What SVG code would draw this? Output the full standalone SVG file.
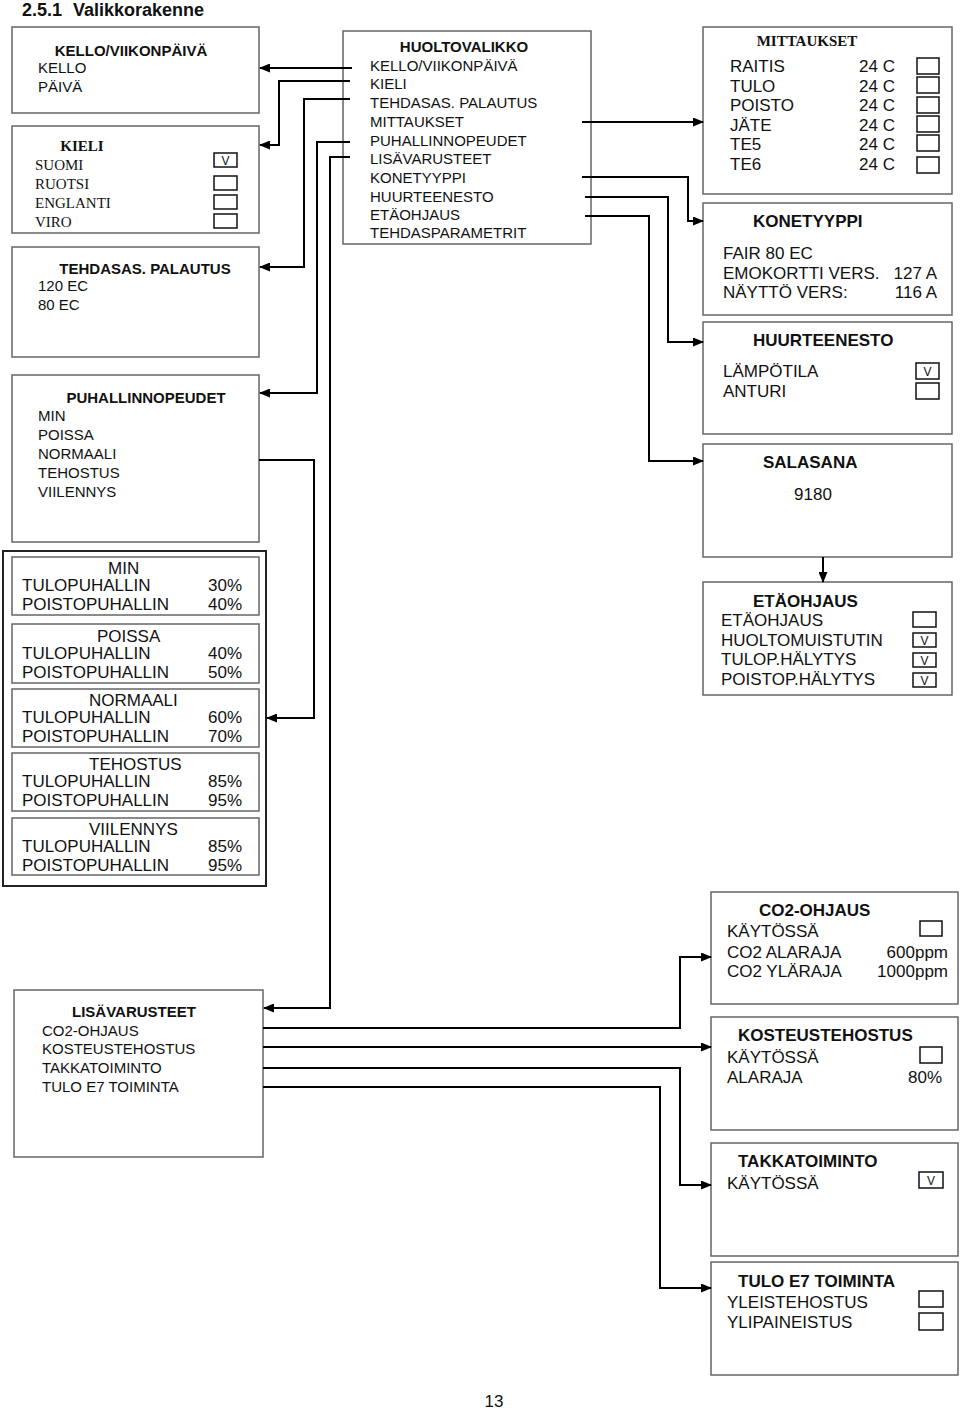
<svg xmlns="http://www.w3.org/2000/svg" width="960" height="1410" viewBox="0 0 960 1410">
<style>
text{font-family:"Liberation Sans",Arial,sans-serif;fill:#111;}
.t15{font-size:15px;}
.t17{font-size:17px;}
.b{font-weight:bold;}
.ser{font-family:"Liberation Serif","Times New Roman",serif;font-size:15px;}
.box{fill:#fff;stroke:#666;stroke-width:1.5;}
.outer{fill:#fff;stroke:#222;stroke-width:2;}
.cb{fill:#fff;stroke:#111;stroke-width:1.5;}
.v{font-size:12px;text-anchor:middle;}
.c{text-anchor:middle;}
.e{text-anchor:end;}
.conn{fill:none;stroke:#000;stroke-width:2;}
</style>
<defs>
<marker id="arr" viewBox="0 0 11 9" refX="10" refY="4.5" markerWidth="11" markerHeight="9" orient="auto" markerUnits="userSpaceOnUse"><path d="M0,0 L11,4.5 L0,9 z" fill="#000"/></marker>
</defs>
<rect width="960" height="1410" fill="#fff"/>
<text x="22" y="15.5" class="b" style="font-size:18px">2.5.1 <tspan x="73">Valikkorakenne</tspan></text>

<g id="kello">
<rect class="box" x="12" y="27" width="247" height="86"/>
<text x="131" y="56" class="t15 b c">KELLO/VIIKONPÄIVÄ</text>
<text x="38" y="73" class="t15">KELLO</text>
<text x="38" y="92" class="t15">PÄIVÄ</text>
</g>

<g id="kieli">
<rect class="box" x="12" y="126" width="247" height="107"/>
<text x="82" y="151" class="ser c" font-weight="bold">KIELI</text>
<text x="35" y="170" class="ser">SUOMI</text>
<text x="35" y="189" class="ser">RUOTSI</text>
<text x="35" y="208" class="ser">ENGLANTI</text>
<text x="35" y="227" class="ser">VIRO</text>
<rect class="cb" x="214" y="153" width="23" height="14"/><text x="225.5" y="164.5" class="v">V</text>
<rect class="cb" x="214" y="176" width="23" height="14"/>
<rect class="cb" x="214" y="195" width="23" height="14"/>
<rect class="cb" x="214" y="214" width="23" height="14"/>
</g>

<g id="tehdasas">
<rect class="box" x="12" y="247" width="247" height="110"/>
<text x="145" y="274" class="t15 b c">TEHDASAS. PALAUTUS</text>
<text x="38" y="291" class="t15">120 EC</text>
<text x="38" y="310" class="t15">80 EC</text>
</g>

<g id="puhallinnopeudet">
<rect class="box" x="12" y="375" width="247" height="167"/>
<text x="146" y="403" class="t15 b c">PUHALLINNOPEUDET</text>
<text x="38" y="421" class="t15">MIN</text>
<text x="38" y="440" class="t15">POISSA</text>
<text x="38" y="459" class="t15">NORMAALI</text>
<text x="38" y="478" class="t15">TEHOSTUS</text>
<text x="38" y="497" class="t15">VIILENNYS</text>
</g>

<g id="nopeudet">
<rect class="outer" x="3" y="551" width="263" height="335"/>
<rect class="box" x="12" y="557" width="247" height="58"/>
<text x="108" y="574" class="t17">MIN</text>
<text x="22" y="591" class="t17">TULOPUHALLIN</text><text x="208" y="591" class="t17">30%</text>
<text x="22" y="610" class="t17">POISTOPUHALLIN</text><text x="208" y="610" class="t17">40%</text>
<rect class="box" x="12" y="624" width="247" height="59"/>
<text x="97" y="642" class="t17">POISSA</text>
<text x="22" y="659" class="t17">TULOPUHALLIN</text><text x="208" y="659" class="t17">40%</text>
<text x="22" y="678" class="t17">POISTOPUHALLIN</text><text x="208" y="678" class="t17">50%</text>
<rect class="box" x="12" y="689" width="247" height="58"/>
<text x="89" y="706" class="t17">NORMAALI</text>
<text x="22" y="723" class="t17">TULOPUHALLIN</text><text x="208" y="723" class="t17">60%</text>
<text x="22" y="742" class="t17">POISTOPUHALLIN</text><text x="208" y="742" class="t17">70%</text>
<rect class="box" x="12" y="753" width="247" height="58"/>
<text x="89" y="770" class="t17">TEHOSTUS</text>
<text x="22" y="787" class="t17">TULOPUHALLIN</text><text x="208" y="787" class="t17">85%</text>
<text x="22" y="806" class="t17">POISTOPUHALLIN</text><text x="208" y="806" class="t17">95%</text>
<rect class="box" x="12" y="818" width="247" height="57"/>
<text x="89" y="835" class="t17">VIILENNYS</text>
<text x="22" y="852" class="t17">TULOPUHALLIN</text><text x="208" y="852" class="t17">85%</text>
<text x="22" y="871" class="t17">POISTOPUHALLIN</text><text x="208" y="871" class="t17">95%</text>
</g>

<g id="lisavarusteet">
<rect class="box" x="14" y="990" width="249" height="167"/>
<text x="72" y="1017" class="t15 b">LISÄVARUSTEET</text>
<text x="42" y="1036" class="t15">CO2-OHJAUS</text>
<text x="42" y="1054" class="t15">KOSTEUSTEHOSTUS</text>
<text x="42" y="1073" class="t15">TAKKATOIMINTO</text>
<text x="42" y="1092" class="t15">TULO E7 TOIMINTA</text>
</g>

<g id="huoltovalikko">
<rect class="box" x="343" y="31" width="248" height="213"/>
<text x="464" y="52" class="t15 b c">HUOLTOVALIKKO</text>
<text x="370" y="71" class="t15">KELLO/VIIKONPÄIVÄ</text>
<text x="370" y="89" class="t15">KIELI</text>
<text x="370" y="108" class="t15">TEHDASAS. PALAUTUS</text>
<text x="370" y="127" class="t15">MITTAUKSET</text>
<text x="370" y="146" class="t15">PUHALLINNOPEUDET</text>
<text x="370" y="164" class="t15">LISÄVARUSTEET</text>
<text x="370" y="183" class="t15">KONETYYPPI</text>
<text x="370" y="202" class="t15">HUURTEENESTO</text>
<text x="370" y="220" class="t15">ETÄOHJAUS</text>
<text x="370" y="238" class="t15">TEHDASPARAMETRIT</text>
</g>

<g id="mittaukset">
<rect class="box" x="703" y="27" width="249" height="167"/>
<text x="807" y="46" class="ser c" font-weight="bold">MITTAUKSET</text>
<text x="730" y="72" class="t17">RAITIS</text><text x="859" y="72" class="t17">24 C</text>
<text x="730" y="92" class="t17">TULO</text><text x="859" y="92" class="t17">24 C</text>
<text x="730" y="111" class="t17">POISTO</text><text x="859" y="111" class="t17">24 C</text>
<text x="730" y="131" class="t17">JÄTE</text><text x="859" y="131" class="t17">24 C</text>
<text x="730" y="150" class="t17">TE5</text><text x="859" y="150" class="t17">24 C</text>
<text x="730" y="170" class="t17">TE6</text><text x="859" y="170" class="t17">24 C</text>
<rect class="cb" x="917" y="58" width="22" height="16"/>
<rect class="cb" x="917" y="77" width="22" height="16"/>
<rect class="cb" x="917" y="97" width="22" height="16"/>
<rect class="cb" x="917" y="116" width="22" height="16"/>
<rect class="cb" x="917" y="135" width="22" height="16"/>
<rect class="cb" x="917" y="157" width="22" height="16"/>
</g>

<g id="konetyyppi">
<rect class="box" x="703" y="203" width="249" height="112"/>
<text x="753" y="227" class="t17 b">KONETYYPPI</text>
<text x="723" y="259" class="t17">FAIR 80 EC</text>
<text x="723" y="279" class="t17">EMOKORTTI VERS.</text><text x="937" y="279" class="t17 e">127 A</text>
<text x="723" y="298" class="t17">NÄYTTÖ VERS:</text><text x="937" y="298" class="t17 e">116 A</text>
</g>

<g id="huurteenesto">
<rect class="box" x="703" y="322" width="249" height="112"/>
<text x="753" y="346" class="t17 b">HUURTEENESTO</text>
<text x="723" y="377" class="t17">LÄMPÖTILA</text>
<text x="723" y="397" class="t17">ANTURI</text>
<rect class="cb" x="916" y="363" width="23" height="16"/><text x="927.5" y="375.5" class="v">V</text>
<rect class="cb" x="916" y="383" width="23" height="16"/>
</g>

<g id="salasana">
<rect class="box" x="703" y="444" width="249" height="113"/>
<text x="763" y="468" class="t17 b">SALASANA</text>
<text x="813" y="500" class="t17 c">9180</text>
</g>

<g id="etaohjaus">
<rect class="box" x="703" y="582" width="249" height="113"/>
<text x="753" y="607" class="t17 b">ETÄOHJAUS</text>
<text x="721" y="626" class="t17">ETÄOHJAUS</text>
<text x="721" y="646" class="t17">HUOLTOMUISTUTIN</text>
<text x="721" y="665" class="t17">TULOP.HÄLYTYS</text>
<text x="721" y="685" class="t17">POISTOP.HÄLYTYS</text>
<rect class="cb" x="913" y="612" width="23" height="15"/>
<rect class="cb" x="913" y="633" width="23" height="14"/><text x="924.5" y="644.5" class="v">V</text>
<rect class="cb" x="913" y="653" width="23" height="14"/><text x="924.5" y="664.5" class="v">V</text>
<rect class="cb" x="913" y="673" width="23" height="14"/><text x="924.5" y="684.5" class="v">V</text>
</g>

<g id="co2ohjaus">
<rect class="box" x="711" y="892" width="247" height="112"/>
<text x="759" y="916" class="t17 b">CO2-OHJAUS</text>
<text x="727" y="937" class="t17">KÄYTÖSSÄ</text>
<text x="727" y="958" class="t17">CO2 ALARAJA</text><text x="948" y="958" class="t17 e">600ppm</text>
<text x="727" y="977" class="t17">CO2 YLÄRAJA</text><text x="948" y="977" class="t17 e">1000ppm</text>
<rect class="cb" x="920" y="921" width="22" height="15"/>
</g>

<g id="kosteustehostus">
<rect class="box" x="711" y="1017" width="247" height="113"/>
<text x="738" y="1041" class="t17 b">KOSTEUSTEHOSTUS</text>
<text x="727" y="1063" class="t17">KÄYTÖSSÄ</text>
<text x="727" y="1083" class="t17">ALARAJA</text><text x="942" y="1083" class="t17 e">80%</text>
<rect class="cb" x="920" y="1047" width="22" height="16"/>
</g>

<g id="takkatoiminto">
<rect class="box" x="711" y="1143" width="247" height="113"/>
<text x="738" y="1167" class="t17 b">TAKKATOIMINTO</text>
<text x="727" y="1189" class="t17">KÄYTÖSSÄ</text>
<rect class="cb" x="919" y="1172" width="24" height="16"/><text x="931" y="1184.5" class="v">V</text>
</g>

<g id="tuloe7">
<rect class="box" x="711" y="1262" width="247" height="113"/>
<text x="738" y="1287" class="t17 b">TULO E7 TOIMINTA</text>
<text x="727" y="1308" class="t17">YLEISTEHOSTUS</text>
<text x="727" y="1328" class="t17">YLIPAINEISTUS</text>
<rect class="cb" x="919" y="1291" width="24" height="16"/>
<rect class="cb" x="919" y="1313" width="24" height="17"/>
</g>

<g id="connectors">
<path class="conn" d="M352,68 H260" marker-end="url(#arr)"/>
<path class="conn" d="M350,81 H279 V145 H260" marker-end="url(#arr)"/>
<path class="conn" d="M350,99 H304 V267 H260" marker-end="url(#arr)"/>
<path class="conn" d="M350,142 H317 V393 H260" marker-end="url(#arr)"/>
<path class="conn" d="M259,460 H314 V718 H267" marker-end="url(#arr)"/>
<path class="conn" d="M350,157 H330 V1008 H264" marker-end="url(#arr)"/>
<path class="conn" d="M582,122 H703" marker-end="url(#arr)"/>
<path class="conn" d="M582,177 H688 V221 H703" marker-end="url(#arr)"/>
<path class="conn" d="M585,197 H668 V342 H703" marker-end="url(#arr)"/>
<path class="conn" d="M585,216 H649 V461 H703" marker-end="url(#arr)"/>
<path class="conn" d="M823,557 V582" marker-end="url(#arr)"/>
<path class="conn" d="M263,1028 H680 V957 H711" marker-end="url(#arr)"/>
<path class="conn" d="M263,1047 H711" marker-end="url(#arr)"/>
<path class="conn" d="M263,1068 H680 V1185 H711" marker-end="url(#arr)"/>
<path class="conn" d="M263,1087 H660 V1288 H711" marker-end="url(#arr)"/>
</g>

<text x="494" y="1407" class="t17 c">13</text>
</svg>
